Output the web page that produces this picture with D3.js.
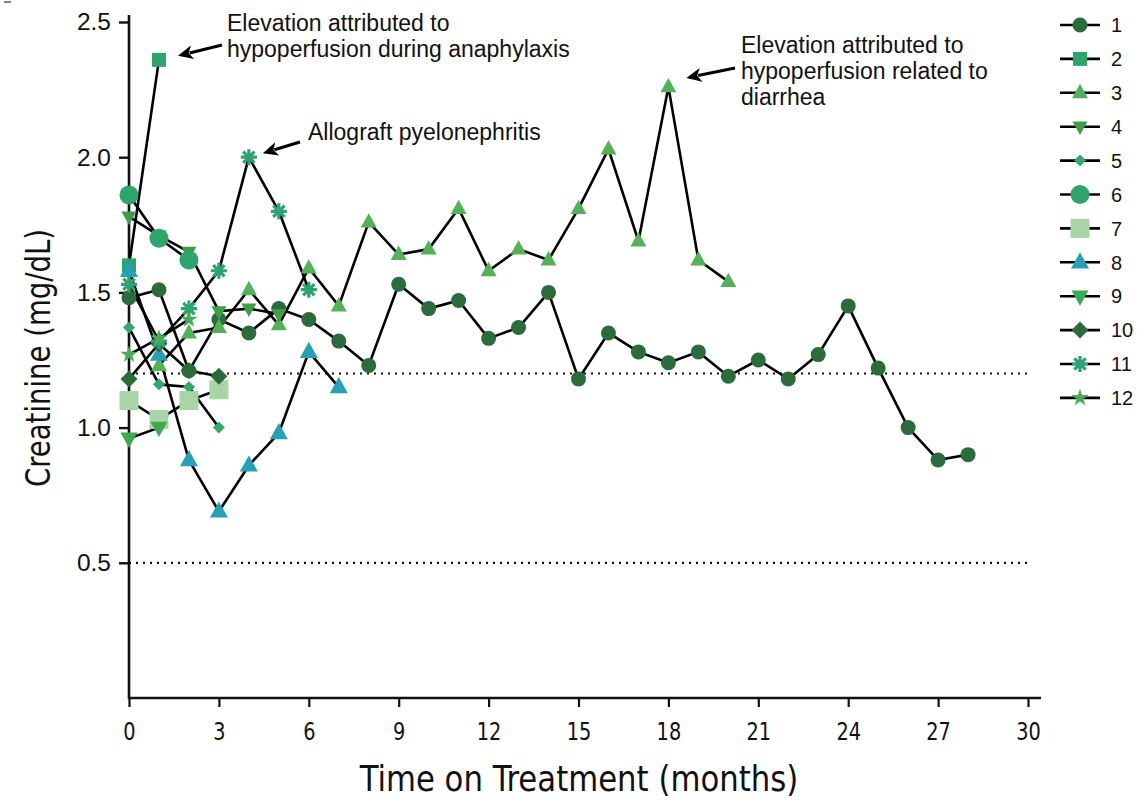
<!DOCTYPE html>
<html><head><meta charset="utf-8">
<script src="https://cdn.jsdelivr.net/npm/d3@7"></script>
<style>
html,body{margin:0;padding:0;background:#fff;}
svg{display:block;}
</style></head>
<body>
<svg id="chart" width="1137" height="802"></svg>
<script>
// ---------------- DATA ----------------
const seriesNames = ["1","2","3","4","5","6","7","8","9","10","11","12"];
const s1Months = [0,1,2,3,4,5,6,7,8,9,10,11,12,13,14,15,16,17,18,19,20,21,22,23,24,25,26,27,28];
const s1Values = [1.48,1.51,1.21,1.40,1.35,1.44,1.40,1.32,1.23,1.53,1.44,1.47,1.33,1.37,1.50,1.18,1.35,1.28,1.24,1.28,1.19,1.25,1.18,1.27,1.45,1.22,1.00,0.88,0.90];
const s2Months = [0,1];
const s2Values = [1.60,2.36];
const s3Months = [1,2,3,4,5,6,7,8,9,10,11,12,13,14,15,16,17,18,19,20];
const s3Values = [1.23,1.35,1.37,1.51,1.38,1.59,1.45,1.76,1.64,1.66,1.81,1.58,1.66,1.62,1.81,2.03,1.69,2.26,1.62,1.54];
const s4Months = [0,1,2,3,4,5];
const s4Values = [1.78,1.71,1.65,1.43,1.44,1.42];
const s5Months = [0,1,2,3];
const s5Values = [1.37,1.16,1.15,1.00];
const s6Months = [0,1,2];
const s6Values = [1.86,1.70,1.62];
const s7Months = [0,1,2,3];
const s7Values = [1.10,1.03,1.10,1.14];
const s8Months = [0,1,2,3,4,5,6,7];
const s8Values = [1.58,1.27,0.88,0.69,0.86,0.98,1.28,1.15];
const s9Months = [0,1];
const s9Values = [0.96,1.00];
const s10Months = [0,1,2,3];
const s10Values = [1.18,1.31,1.21,1.19];
const s11Months = [0,1,2,3,4,5,6];
const s11Values = [1.53,1.32,1.44,1.58,2.00,1.80,1.51];
const s12Months = [0,1,2];
const s12Values = [1.27,1.33,1.40];

const xTicks = [0,3,6,9,12,15,18,21,24,27,30];
const yTicks = [0.5,1.0,1.5,2.0,2.5];
const refLines = [1.2,0.5];
const xTitle = "Time on Treatment (months)";
const yTitle = "Creatinine (mg/dL)";
const annotations = [
  {lines:["Elevation attributed to","hypoperfusion during anaphylaxis"], month:1, value:2.36},
  {lines:["Allograft pyelonephritis"], month:4, value:2.00},
  {lines:["Elevation attributed to","hypoperfusion related to","diarrhea"], month:18, value:2.26}
];

// ---------------- STYLE ----------------
const styles = [
  {shape:"circle",  size:7.5, color:"#2c6b3c"},
  {shape:"square",  size:14,  color:"#2ea36c"},
  {shape:"triUp",   size:16,  color:"#55b05a"},
  {shape:"triDown", size:15,  color:"#3f9c49"},
  {shape:"diamond", size:12,  color:"#34a76b"},
  {shape:"circle",  size:9.5, color:"#2ea56c"},
  {shape:"square",  size:19,  color:"#a9d4a7"},
  {shape:"triUp",   size:18,  color:"#27a0b5"},
  {shape:"triDown", size:17,  color:"#3baa4f"},
  {shape:"diamond", size:17,  color:"#2b6a3a"},
  {shape:"asterisk",size:8,   color:"#2ea372"},
  {shape:"star",    size:13,  color:"#4ba95b"}
];
const allSeries = [
  [s1Months,s1Values],[s2Months,s2Values],[s3Months,s3Values],[s4Months,s4Values],
  [s5Months,s5Values],[s6Months,s6Values],[s7Months,s7Values],[s8Months,s8Values],
  [s9Months,s9Values],[s10Months,s10Values],[s11Months,s11Values],[s12Months,s12Values]
].map(([m,v],i)=>({name:seriesNames[i], style:styles[i], pts:m.map((mm,j)=>({m:mm,v:v[j]}))}));

const svg = d3.select("#chart");
const x = d3.scaleLinear().domain([0,30]).range([129,1028]);
const y = d3.scaleLinear().domain([0,2.5]).range([698,22]);

const condensed = "'DejaVu Sans Condensed','DejaVu Sans',sans-serif";
const sans = "'Liberation Sans',Arial,sans-serif";

// reference dotted lines
svg.selectAll("line.ref").data(refLines).join("line")
  .attr("x1",x(0)).attr("x2",x(30)).attr("y1",d=>y(d)).attr("y2",d=>y(d))
  .attr("stroke","#111").attr("stroke-width",2.2).attr("stroke-dasharray","2,5");

// axes
const gy = svg.append("g").attr("transform",`translate(${x(0)},0)`)
  .call(d3.axisLeft(y).tickValues(yTicks).tickFormat(d3.format(".1f")).tickSize(10).tickSizeOuter(0).tickPadding(8));
gy.select(".domain").remove();
gy.selectAll(".tick line").attr("stroke","#111").attr("stroke-width",2.4);
gy.selectAll(".tick text").attr("font-family",sans).attr("font-size",24.5).attr("fill","#111");

const gx = svg.append("g").attr("transform",`translate(0,${y(0)})`)
  .call(d3.axisBottom(x).tickValues(xTicks).tickSize(9).tickSizeOuter(0).tickPadding(15));
gx.select(".domain").remove();
gx.selectAll(".tick line").attr("stroke","#111").attr("stroke-width",2.2);
gx.selectAll(".tick text").attr("font-family",condensed).attr("font-size",25).attr("fill","#111")
  .attr("transform","scale(0.86,1)");

svg.append("line").attr("x1",x(0)).attr("x2",1041).attr("y1",y(0)).attr("y2",y(0))
  .attr("stroke","#111").attr("stroke-width",2.6);
svg.append("line").attr("x1",x(0)).attr("x2",x(0)).attr("y1",15).attr("y2",y(0)+1.3)
  .attr("stroke","#111").attr("stroke-width",2.6);

// axis titles
svg.append("text").attr("x",0).attr("y",0)
  .attr("transform",`translate(579,791) scale(0.95,1)`)
  .attr("text-anchor","middle").attr("font-family",condensed).attr("font-size",36).attr("fill","#111")
  .text(xTitle);
svg.append("text")
  .attr("transform",`translate(50,358) rotate(-90) scale(0.9,1)`)
  .attr("text-anchor","middle").attr("font-family",condensed).attr("font-size",34).attr("fill","#111")
  .text(yTitle);

// symbol paths
function symbolPath(shape,s){
  switch(shape){
    case "circle": return d3.symbol(d3.symbolCircle, Math.PI*s*s)();
    case "square": return d3.symbol(d3.symbolSquare, s*s)();
    case "triUp": { const h=s*0.9, w=s/2; return `M0,${-h*0.62}L${w},${h*0.38}L${-w},${h*0.38}Z`; }
    case "triDown": { const h=s*0.9, w=s/2; return `M0,${h*0.62}L${w},${-h*0.38}L${-w},${-h*0.38}Z`; }
    case "diamond": { const r=s/2; return `M0,${-r}L${r},0L0,${r}L${-r},0Z`; }
    case "star": return d3.symbol(d3.symbolStar, s*s*0.55)();
    case "asterisk": {
      let p=""; for(let k=0;k<4;k++){const a=k*Math.PI/4; const dx=Math.cos(a)*s, dy=Math.sin(a)*s; p+=`M${-dx},${-dy}L${dx},${dy}`;} return p;
    }
  }
}
function drawMarker(g,st,cx,cy){
  const p = g.append("path").attr("d",symbolPath(st.shape,st.size)).attr("transform",`translate(${cx},${cy})`);
  if(st.shape==="asterisk"){
    p.attr("fill","none").attr("stroke",st.color).attr("stroke-width",3.2);
    g.append("circle").attr("cx",cx).attr("cy",cy).attr("r",3.5).attr("fill",st.color);
  } else p.attr("fill",st.color);
}

// lines
const line = d3.line().x(d=>x(d.m)).y(d=>y(d.v));
svg.append("g").selectAll("path").data(allSeries).join("path")
  .attr("d",d=>line(d.pts)).attr("fill","none").attr("stroke","#000").attr("stroke-width",2.6)
  .attr("stroke-linejoin","round");
// markers
const gm = svg.append("g");
allSeries.forEach(s=>s.pts.forEach(p=>drawMarker(gm,s.style,x(p.m),y(p.v))));

// legend
const lg = svg.append("g");
allSeries.forEach((s,i)=>{
  const ly = 25 + i*33.9;
  lg.append("line").attr("x1",1060).attr("x2",1100).attr("y1",ly).attr("y2",ly).attr("stroke","#000").attr("stroke-width",2.6);
  drawMarker(lg,s.style,1080,ly);
  lg.append("text").attr("x",1111).attr("y",ly).attr("dy","0.36em").attr("font-family",sans).attr("font-size",20).attr("fill","#111").text(s.name);
});

// annotations
function arrow(x1,y1,x2,y2){
  const ang=Math.atan2(y2-y1,x2-x1), L=15, W=7;
  const bx=x2-Math.cos(ang)*L, by=y2-Math.sin(ang)*L;
  svg.append("line").attr("x1",x1).attr("y1",y1).attr("x2",bx+Math.cos(ang)*3).attr("y2",by+Math.sin(ang)*3).attr("stroke","#000").attr("stroke-width",3);
  const px=-Math.sin(ang), py=Math.cos(ang);
  svg.append("path").attr("d",`M${x2},${y2}L${bx+px*W},${by+py*W}L${bx+Math.cos(ang)*4},${by+Math.sin(ang)*4}L${bx-px*W},${by-py*W}Z`).attr("fill","#000");
}
const annPos = [
  {tx:227, ty:31, ax1:222, ay1:45, dx:19, dy:-4},
  {tx:308, ty:140, ax1:300, ay1:142, dx:14, dy:-4},
  {tx:741, ty:53, ax1:735, ay1:68, dx:18, dy:-9}
];
annotations.forEach((a,i)=>{
  const p=annPos[i];
  const t=svg.append("text").attr("x",p.tx).attr("y",p.ty).attr("font-family",sans).attr("font-size",23).attr("fill","#111");
  a.lines.forEach((l,k)=>t.append("tspan").attr("x",p.tx).attr("y",p.ty+k*26).text(l));
  arrow(p.ax1,p.ay1,x(a.month)+p.dx,y(a.value)+p.dy);
});
// small mark top-left
svg.append("line").attr("x1",4).attr("x2",11).attr("y1",2).attr("y2",2).attr("stroke","#333").attr("stroke-width",1.2);
</script>
</body></html>
